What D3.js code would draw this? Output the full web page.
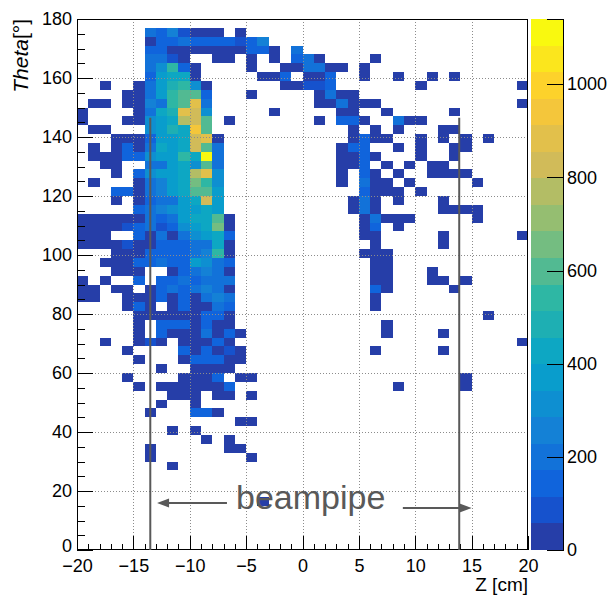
<!DOCTYPE html>
<html>
<head>
<meta charset="utf-8">
<script src="https://cdn.jsdelivr.net/npm/d3@7"></script>
<style>
  body { margin: 0; background: #fff; }
  svg { display: block; }
  text { font-family: "Liberation Sans", Arial, Helvetica, sans-serif; }
</style>
</head>
<body>
<svg id="chart" width="610" height="596"></svg>
<script>
// ---- axis definitions ----
const zDomain = [-20, 20];          // Z [cm]
const zBinWidth = 1;
const thetaDomain = [0, 180];       // Theta [deg]
const thetaBinWidth = 3;
const zTicks = [-20, -15, -10, -5, 0, 5, 10, 15, 20];
const thetaTicks = [0, 20, 40, 60, 80, 100, 120, 140, 160, 180];
const countMax = 1140;               // top of the colour scale
const nContours = 20;
const paletteTicks = [0, 200, 400, 600, 800, 1000];

// beam-pipe ends [cm] and the height the markers reach [deg]
const beampipeZ = [-13.5, 13.9];
const beampipeTop = 146.5;

// ---- histogram contents: [theta bin centre, [[z bin centre, entries], ...]] ----
const thetaRows = [
  [175.5, [[-13.5,200],[-12.5,145],[-11.5,255],[-10.5,85],[-9.5,40],[-8.5,30],[-7.5,35],[-5.5,25]]],
  [172.5, [[-13.5,45],[-12.5,150],[-11.5,140],[-10.5,205],[-9.5,150],[-8.5,145],[-7.5,140],[-6.5,135],[-5.5,95],[-4.5,150],[-3.5,250]]],
  [169.5, [[-13.5,160],[-12.5,130],[-11.5,50],[-10.5,45],[-9.5,40],[-8.5,35],[-7.5,30],[-6.5,40],[-5.5,35],[-4.5,140],[-3.5,165],[-2.5,30],[-0.5,190]]],
  [166.5, [[-13.5,210],[-12.5,195],[-11.5,90],[-10.5,50],[-7.5,30],[-6.5,25],[-4.5,30],[-2.5,35],[-0.5,150],[0.5,190],[1.5,40],[6.5,20]]],
  [163.5, [[-13.5,220],[-12.5,300],[-11.5,540],[-10.5,150],[-9.5,45],[-4.5,25],[-1.5,40],[-0.5,45],[0.5,180],[1.5,210],[2.5,40],[3.5,35],[5.5,25]]],
  [160.5, [[-13.5,165],[-12.5,360],[-11.5,420],[-10.5,440],[-9.5,50],[-3.5,30],[-2.5,35],[-1.5,150],[0.5,40],[1.5,45],[2.5,140],[5.5,20],[8.5,20],[11.5,25],[13.5,20]]],
  [157.5, [[-17.5,25],[-14.5,40],[-13.5,205],[-12.5,380],[-11.5,490],[-10.5,550],[-9.5,320],[-8.5,50],[-1.5,40],[-0.5,45],[0.5,80],[1.5,100],[2.5,150],[10.5,25],[19.5,30]]],
  [154.5, [[-15.5,35],[-14.5,45],[-13.5,195],[-12.5,375],[-11.5,545],[-10.5,590],[-9.5,600],[-8.5,140],[-4.5,30],[1.5,35],[2.5,200],[3.5,40],[4.5,30]]],
  [151.5, [[-18.5,30],[-17.5,35],[-15.5,40],[-14.5,30],[-13.5,255],[-12.5,200],[-11.5,540],[-10.5,600],[-9.5,880],[-8.5,195],[1.5,30],[2.5,40],[3.5,200],[4.5,45],[5.5,35],[6.5,30],[19.5,25]]],
  [148.5, [[-19.5,35],[-14.5,40],[-13.5,200],[-12.5,430],[-11.5,480],[-10.5,890],[-9.5,830],[-8.5,310],[-2.5,25],[3.5,40],[4.5,45],[7.5,20],[13.5,25]]],
  [145.5, [[-19.5,30],[-15.5,35],[-14.5,40],[-13.5,310],[-12.5,370],[-11.5,420],[-10.5,770],[-9.5,830],[-8.5,600],[-6.5,25],[1.5,30],[3.5,145],[4.5,150],[5.5,40],[8.5,200],[9.5,30],[10.5,35]]],
  [142.5, [[-18.5,30],[-17.5,35],[-13.5,315],[-12.5,370],[-11.5,485],[-10.5,430],[-9.5,945],[-8.5,600],[4.5,30],[6.5,25],[8.5,35],[12.5,25],[13.5,30]]],
  [139.5, [[-16.5,40],[-15.5,35],[-14.5,45],[-13.5,145],[-12.5,370],[-11.5,375],[-10.5,430],[-9.5,830],[-8.5,885],[-7.5,45],[4.5,40],[5.5,140],[6.5,35],[7.5,30],[10.5,25],[12.5,30],[14.5,25],[16.5,20]]],
  [136.5, [[-18.5,30],[-16.5,35],[-15.5,140],[-14.5,40],[-13.5,200],[-12.5,425],[-11.5,370],[-10.5,425],[-9.5,825],[-8.5,600],[-7.5,200],[3.5,35],[4.5,145],[5.5,150],[8.5,30],[10.5,25],[13.5,30],[14.5,25]]],
  [133.5, [[-18.5,35],[-17.5,40],[-16.5,35],[-15.5,145],[-14.5,140],[-13.5,315],[-12.5,370],[-11.5,375],[-10.5,540],[-9.5,425],[-8.5,1140],[-7.5,205],[3.5,40],[4.5,35],[5.5,150],[6.5,30],[10.5,25],[13.5,30]]],
  [130.5, [[-17.5,35],[-16.5,40],[-13.5,200],[-12.5,195],[-11.5,365],[-10.5,430],[-9.5,315],[-8.5,600],[-7.5,200],[3.5,40],[4.5,35],[5.5,145],[7.5,25],[9.5,30],[11.5,25],[12.5,30]]],
  [127.5, [[-16.5,35],[-14.5,145],[-13.5,310],[-12.5,370],[-11.5,375],[-10.5,430],[-9.5,770],[-8.5,885],[-7.5,315],[3.5,40],[5.5,150],[6.5,35],[8.5,30],[11.5,25],[12.5,30],[13.5,25],[14.5,30]]],
  [124.5, [[-18.5,30],[-14.5,40],[-13.5,200],[-12.5,255],[-11.5,370],[-10.5,425],[-9.5,655],[-8.5,540],[-7.5,310],[3.5,35],[5.5,200],[6.5,40],[7.5,30],[9.5,25],[15.5,30]]],
  [121.5, [[-16.5,145],[-15.5,140],[-14.5,45],[-13.5,205],[-12.5,250],[-11.5,370],[-10.5,430],[-9.5,600],[-8.5,605],[-7.5,370],[5.5,145],[6.5,40],[7.5,30],[8.5,35],[10.5,25]]],
  [118.5, [[-16.5,35],[-14.5,40],[-13.5,145],[-12.5,200],[-11.5,205],[-10.5,365],[-9.5,425],[-8.5,825],[-7.5,370],[4.5,35],[5.5,200],[6.5,40],[8.5,30],[12.5,25]]],
  [115.5, [[-14.5,140],[-13.5,200],[-12.5,255],[-11.5,315],[-10.5,370],[-9.5,375],[-8.5,430],[-7.5,365],[4.5,40],[5.5,205],[6.5,35],[12.5,30],[13.5,25],[14.5,30],[15.5,25]]],
  [112.5, [[-19.5,35],[-18.5,40],[-17.5,35],[-16.5,40],[-15.5,35],[-14.5,45],[-13.5,200],[-12.5,145],[-11.5,205],[-10.5,370],[-9.5,425],[-8.5,430],[-7.5,600],[-6.5,40],[5.5,35],[6.5,200],[7.5,40],[8.5,35],[9.5,30],[15.5,25]]],
  [109.5, [[-19.5,40],[-18.5,35],[-17.5,40],[-16.5,35],[-15.5,85],[-14.5,145],[-13.5,200],[-12.5,90],[-11.5,140],[-10.5,315],[-9.5,370],[-8.5,425],[-7.5,655],[-6.5,40],[5.5,40],[6.5,145],[8.5,30]]],
  [106.5, [[-19.5,35],[-18.5,40],[-17.5,30],[-14.5,145],[-13.5,45],[-12.5,200],[-11.5,50],[-10.5,205],[-9.5,315],[-8.5,370],[-7.5,425],[-6.5,140],[5.5,35],[6.5,40],[12.5,30],[19.5,25]]],
  [103.5, [[-19.5,40],[-18.5,35],[-17.5,40],[-16.5,35],[-15.5,85],[-14.5,40],[-13.5,45],[-12.5,145],[-11.5,140],[-10.5,150],[-9.5,200],[-8.5,205],[-7.5,430],[-6.5,45],[6.5,35],[12.5,30]]],
  [100.5, [[-16.5,35],[-15.5,40],[-14.5,45],[-13.5,145],[-12.5,140],[-11.5,150],[-10.5,145],[-9.5,200],[-8.5,255],[-7.5,545],[-6.5,40],[5.5,30],[6.5,35],[7.5,30]]],
  [97.5, [[-17.5,35],[-16.5,40],[-15.5,35],[-14.5,140],[-13.5,145],[-12.5,200],[-11.5,140],[-10.5,145],[-9.5,370],[-8.5,315],[-7.5,200],[-6.5,145],[6.5,35],[7.5,30]]],
  [94.5, [[-16.5,35],[-15.5,40],[-14.5,45],[-11.5,40],[-10.5,145],[-9.5,200],[-8.5,255],[-7.5,205],[-6.5,45],[6.5,40],[7.5,35],[11.5,25]]],
  [91.5, [[-19.5,30],[-17.5,35],[-14.5,145],[-12.5,140],[-11.5,150],[-10.5,200],[-9.5,145],[-8.5,200],[-7.5,205],[-6.5,200],[6.5,35],[7.5,40],[11.5,25],[12.5,30],[14.5,25]]],
  [88.5, [[-19.5,35],[-18.5,40],[-16.5,35],[-15.5,40],[-13.5,45],[-12.5,145],[-11.5,200],[-10.5,140],[-9.5,205],[-8.5,255],[-7.5,200],[-6.5,45],[6.5,145],[7.5,40],[13.5,25]]],
  [85.5, [[-19.5,30],[-18.5,35],[-15.5,40],[-14.5,45],[-13.5,40],[-12.5,145],[-11.5,45],[-10.5,140],[-9.5,50],[-8.5,200],[-7.5,255],[-6.5,200],[6.5,40]]],
  [82.5, [[-15.5,40],[-14.5,140],[-13.5,45],[-11.5,40],[-10.5,145],[-9.5,45],[-8.5,50],[-7.5,200],[-6.5,145],[6.5,35]]],
  [79.5, [[-14.5,40],[-13.5,45],[-12.5,40],[-11.5,50],[-10.5,45],[-9.5,50],[-8.5,145],[-7.5,140],[-6.5,45],[16.5,25]]],
  [76.5, [[-14.5,45],[-12.5,140],[-11.5,145],[-10.5,150],[-9.5,45],[-8.5,145],[-7.5,40],[-6.5,45],[7.5,30]]],
  [73.5, [[-14.5,40],[-12.5,145],[-11.5,45],[-10.5,40],[-9.5,50],[-8.5,200],[-7.5,45],[-6.5,140],[-5.5,35],[7.5,30],[12.5,25]]],
  [70.5, [[-17.5,30],[-14.5,40],[-13.5,90],[-12.5,45],[-10.5,40],[-9.5,45],[-8.5,50],[-7.5,145],[-6.5,40],[19.5,25]]],
  [67.5, [[-15.5,35],[-10.5,145],[-9.5,45],[-8.5,140],[-7.5,40],[-6.5,85],[-5.5,35],[6.5,30],[12.5,25]]],
  [64.5, [[-14.5,35],[-10.5,40],[-9.5,145],[-8.5,140],[-7.5,145],[-6.5,40],[-5.5,35]]],
  [61.5, [[-12.5,30],[-9.5,40],[-8.5,45],[-7.5,40],[-6.5,35]]],
  [58.5, [[-15.5,35],[-10.5,40],[-9.5,45],[-8.5,40],[-7.5,140],[-5.5,35],[-4.5,30],[14.5,25]]],
  [55.5, [[-14.5,35],[-12.5,40],[-11.5,45],[-10.5,40],[-9.5,45],[-8.5,40],[-7.5,45],[-6.5,140],[8.5,25],[14.5,25]]],
  [52.5, [[-11.5,40],[-10.5,45],[-9.5,40],[-7.5,35],[-6.5,40],[-4.5,30]]],
  [49.5, [[-12.5,35],[-9.5,40]]],
  [46.5, [[-13.5,35],[-9.5,140],[-8.5,145],[-7.5,40]]],
  [43.5, [[-5.5,30],[-4.5,35]]],
  [40.5, [[-11.5,35],[-9.5,40]]],
  [37.5, [[-8.5,35],[-6.5,30]]],
  [34.5, [[-13.5,35],[-6.5,40],[-5.5,30]]],
  [31.5, [[-13.5,30],[-4.5,35]]],
  [28.5, [[-11.5,35]]],
  [16.5, [[-3.5,30]]]
];

// ---- ROOT "kBird" palette (255 colours) ----
const birdStops = [0.0000, 0.1250, 0.2500, 0.3750, 0.5000, 0.6250, 0.7500, 0.8750, 1.0000];
const birdRed   = [0.2082, 0.0592, 0.0780, 0.0232, 0.1802, 0.5301, 0.8186, 0.9956, 0.9764];
const birdGreen = [0.1664, 0.3599, 0.5041, 0.6419, 0.7178, 0.7492, 0.7328, 0.7862, 0.9832];
const birdBlue  = [0.5293, 0.8684, 0.8385, 0.7914, 0.6425, 0.4662, 0.3499, 0.1968, 0.0539];

const nPalette = 255;
const palette = [];
for (let g = 1; g < birdStops.length; g++) {
  const n = Math.floor(nPalette * birdStops[g]) - Math.floor(nPalette * birdStops[g - 1]);
  for (let c = 0; c < n; c++) {
    const f = c / n;
    palette.push(d3.rgb(
      255 * (birdRed[g - 1]   + f * (birdRed[g]   - birdRed[g - 1])),
      255 * (birdGreen[g - 1] + f * (birdGreen[g] - birdGreen[g - 1])),
      255 * (birdBlue[g - 1]  + f * (birdBlue[g]  - birdBlue[g - 1]))
    ).formatHex());
  }
}
const levelColor = k => palette[Math.floor((k + 0.99) * palette.length / nContours)];
const levelOf = v => Math.min(nContours - 1, Math.floor(0.01 + v * nContours / countMax));

// ---- layout ----
const frame = { left: 77, right: 528, top: 19, bottom: 550 };
const bar = { left: 531, right: 563 };
const fontSize = 18;
const ink = "#000";
const noteInk = "#595959";

const svg = d3.select("#chart");
const x = d3.scaleLinear().domain(zDomain).range([frame.left, frame.right]);
const y = d3.scaleLinear().domain(thetaDomain).range([frame.bottom, frame.top]);
const zc = d3.scaleLinear().domain([0, countMax]).range([frame.bottom, frame.top]);

// ---- cells ----
const cells = thetaRows.flatMap(([theta, list]) => list.map(([z, n]) => ({ z, theta, n })));
svg.append("g").selectAll("rect").data(cells).join("rect")
  .attr("x", d => x(d.z - zBinWidth / 2))
  .attr("y", d => y(d.theta + thetaBinWidth / 2))
  .attr("width", d => x(d.z + zBinWidth / 2) - x(d.z - zBinWidth / 2))
  .attr("height", d => y(d.theta - thetaBinWidth / 2) - y(d.theta + thetaBinWidth / 2))
  .attr("fill", d => levelColor(levelOf(d.n)))
  .attr("shape-rendering", "crispEdges");

// ---- grid ----
const grid = svg.append("g").attr("stroke", "#8c8c8c").attr("stroke-width", 1)
  .attr("stroke-dasharray", "1,2").attr("shape-rendering", "crispEdges");
grid.selectAll(".gx").data(zTicks.slice(1, -1)).join("line")
  .attr("x1", d => Math.round(x(d)) + 0.5).attr("x2", d => Math.round(x(d)) + 0.5)
  .attr("y1", frame.top).attr("y2", frame.bottom);
grid.selectAll(".gy").data(thetaTicks.slice(1, -1)).join("line")
  .attr("y1", d => Math.round(y(d)) + 0.5).attr("y2", d => Math.round(y(d)) + 0.5)
  .attr("x1", frame.left).attr("x2", frame.right);

// ---- axes ----
const xAxis = d3.axisBottom(x).tickValues(zTicks).tickSize(-14).tickPadding(9)
  .tickFormat(d => d < 0 ? "\u2212" + Math.abs(d) : d);
const xMinor = d3.axisBottom(x).tickValues(d3.range(-20, 21, 1).filter(v => v % 5 !== 0))
  .tickSize(-6).tickFormat("");
const yAxis = d3.axisLeft(y).tickValues(thetaTicks).tickSize(-16).tickPadding(5);
const yMinor = d3.axisLeft(y).tickValues(d3.range(0, 181, 5).filter(v => v % 20 !== 0))
  .tickSize(-8).tickFormat("");

function styleAxis(g) {
  g.select(".domain").remove();
  g.selectAll("line").attr("stroke", ink).attr("shape-rendering", "crispEdges");
  g.selectAll("text").attr("font-size", fontSize).attr("fill", ink)
    .attr("font-family", "'Liberation Sans', Arial, sans-serif");
}
svg.append("g").attr("transform", `translate(0,${frame.bottom})`).call(xAxis).call(styleAxis);
svg.append("g").attr("transform", `translate(0,${frame.bottom})`).call(xMinor).call(styleAxis);
svg.append("g").attr("transform", `translate(${frame.left},0)`).call(yAxis).call(styleAxis)
  .call(g => g.selectAll(".tick").filter(d => d === 0).select("text").attr("dy", "0.1em"));
svg.append("g").attr("transform", `translate(${frame.left},0)`).call(yMinor).call(styleAxis);

// frame
svg.append("rect")
  .attr("x", frame.left + 0.5).attr("y", frame.top + 0.5)
  .attr("width", frame.right - frame.left - 1).attr("height", frame.bottom - frame.top - 1)
  .attr("fill", "none").attr("stroke", ink).attr("stroke-width", 1);

// axis titles
svg.append("text")
  .attr("x", frame.right).attr("y", 591)
  .attr("text-anchor", "end").attr("font-size", 19).attr("fill", ink)
  .text("Z [cm]");
const yTitle = svg.append("text")
  .attr("transform", `translate(28,${frame.top}) rotate(-90)`)
  .attr("text-anchor", "end").attr("font-size", 21).attr("fill", ink);
yTitle.append("tspan").attr("font-style", "italic").text("Theta");
yTitle.append("tspan").text("[\u00b0]");

// ---- colour bar ----
const levels = d3.range(nContours);
svg.append("g").selectAll("rect").data(levels).join("rect")
  .attr("x", bar.left)
  .attr("width", bar.right - bar.left)
  .attr("y", k => zc((k + 1) * countMax / nContours))
  .attr("height", k => zc(k * countMax / nContours) - zc((k + 1) * countMax / nContours))
  .attr("fill", k => levelColor(k))
  .attr("shape-rendering", "crispEdges");
const zAxis = d3.axisRight(zc).tickValues(paletteTicks).tickSize(-16).tickPadding(4)
  .tickFormat(d3.format("d"));
svg.append("g").attr("transform", `translate(${bar.right},0)`).call(zAxis).call(g => {
  g.select(".domain").attr("stroke", ink).attr("shape-rendering", "crispEdges");
  g.selectAll("line").attr("stroke", ink).attr("shape-rendering", "crispEdges");
  g.selectAll("text").attr("font-size", fontSize).attr("fill", ink)
    .attr("font-family", "'Liberation Sans', Arial, sans-serif");
});

// ---- beam-pipe annotation ----
const note = svg.append("g").attr("stroke", noteInk).attr("fill", noteInk);
note.selectAll("line.pipe").data(beampipeZ).join("line")
  .attr("x1", d => x(d)).attr("x2", d => x(d))
  .attr("y1", y(0)).attr("y2", y(beampipeTop))
  .attr("stroke-width", 2);

function arrow(zFrom, zTo, theta) {
  const x0 = x(zFrom), x1 = x(zTo), yy = y(theta);
  const dir = Math.sign(x1 - x0);
  const head = 12, half = 4.5;
  note.append("line").attr("x1", x0).attr("x2", x1 - dir * head + dir).attr("y1", yy).attr("y2", yy)
    .attr("stroke-width", 2);
  note.append("path")
    .attr("d", `M${x1},${yy} L${x1 - dir * head},${yy - half} L${x1 - dir * head},${yy + half} Z`)
    .attr("stroke", "none");
}
arrow(-6.7, -12.9, 15.9);
arrow(8.9, 15.0, 14.2);

svg.append("text")
  .attr("x", x(-5.9)).attr("y", y(13.9))
  .attr("font-size", 34).attr("fill", noteInk)
  .text("beampipe");
</script>
</body>
</html>
